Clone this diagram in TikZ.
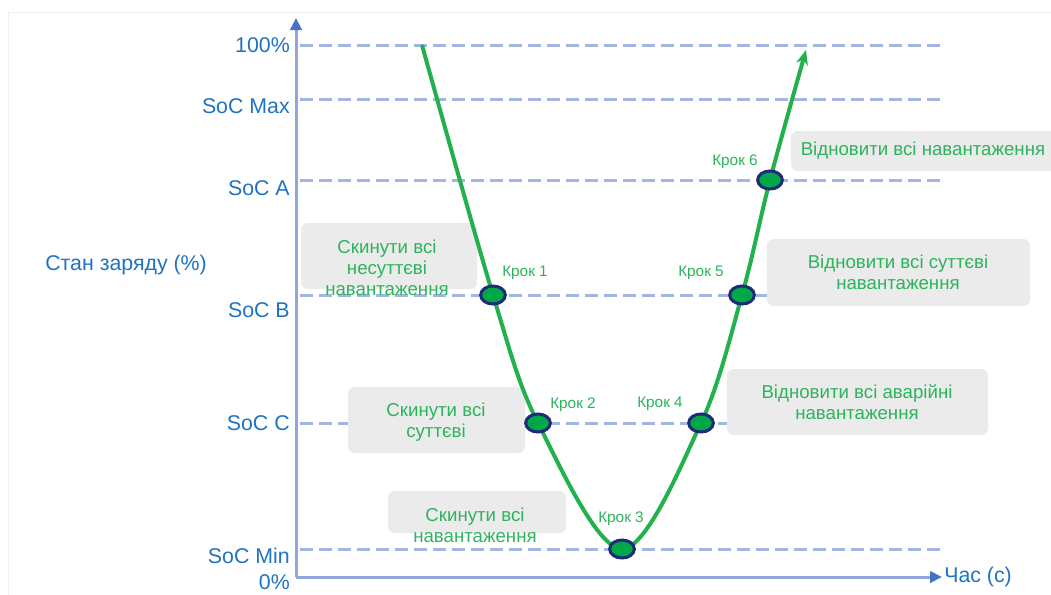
\documentclass[tikz,border=0pt]{standalone}
\usepackage{fontspec}
\setmainfont{Liberation Sans}
\usetikzlibrary{arrows.meta,shapes.geometric}
\definecolor{axisblue}{HTML}{8EA6DC}
\definecolor{axisdark}{HTML}{4472C4}
\definecolor{dashblue}{HTML}{A3B5E3}
\definecolor{labelblue}{HTML}{1F73C2}
\definecolor{curvegreen}{HTML}{22B14C}
\definecolor{textgreen}{HTML}{2BB45C}
\definecolor{markerfill}{HTML}{00A847}
\definecolor{navyline}{HTML}{1F2A7A}
\definecolor{boxgray}{HTML}{EBEBEB}
\definecolor{framegray}{HTML}{EEEEEE}
\begin{document}
\begin{tikzpicture}[x=0.75pt,y=-0.75pt,
  axislbl/.style={text=labelblue, font=\fontsize{16}{19}\selectfont, anchor=east, inner sep=0pt},
  axisline/.style={draw=axisblue, line width=2.25pt, -{Triangle[length=9pt,width=8.5pt,color=axisdark,fill=axisdark]}},
  levelline/.style={draw=dashblue, line width=2.25pt, dash pattern=on 9.75pt off 4.5pt},
  grayfill/.style={fill=boxgray, rounded corners=5pt},
  boxtext/.style={text=textgreen, font=\fontsize{14}{15.75}\selectfont, align=center, inner sep=0pt},
  steplbl/.style={text=textgreen, font=\fontsize{11.5}{13}\selectfont, inner sep=0pt},
  marker/.style={ellipse, fill=markerfill, draw=navyline, line width=2.25pt, minimum width=18.5pt, minimum height=13.5pt, inner sep=0pt},
  curveline/.style={draw=curvegreen, line width=3pt, -{Stealth[length=11pt,width=9pt]}},
]
\useasboundingbox (0,0) rectangle (1051,594);
% frame
\draw[framegray, line width=1pt] (8.5,12.5) rectangle (1070,620);

% level coordinates
\coordinate (a100) at (300,45);  \coordinate (b100) at (941,45);
\coordinate (amax) at (300,99);  \coordinate (bmax) at (941,99);
\coordinate (aA) at (300,180);   \coordinate (bA) at (941,180);
\coordinate (aB) at (300,295);   \coordinate (bB) at (941,295);
\coordinate (aC) at (300,423);   \coordinate (bC) at (941,423);
\coordinate (aMin) at (300,549); \coordinate (bMin) at (941,549);
\foreach \p in {100,max,A,B,C,Min} \draw[levelline] (a\p) -- (b\p);

% gray boxes
\fill[grayfill] (301,223) rectangle (477,289);
\fill[grayfill] (348,387) rectangle (525,453);
\fill[grayfill] (388,491) rectangle (566,533);
\fill[grayfill] (791,131) rectangle (1070,171);
\fill[grayfill] (767,239) rectangle (1030,306);
\fill[grayfill] (727,369) rectangle (988,435);

% axes
\coordinate (O) at (296,577);
\coordinate (ytop) at (296,18);
\coordinate (xend) at (942,577);
\draw[axisline] (O) -- (ytop);
\draw[axisline] (O) -- (xend);

% axis labels
\node[axislbl] (t100) at (290,45) {100\%};
\node[axislbl] (tmax) at (290,106) {SoC Max};
\node[axislbl] (tA) at (290,188) {SoC A};
\node[axislbl] (tB) at (290,310) {SoC B};
\node[axislbl] (tC) at (290,423) {SoC C};
\node[axislbl] (tMin) at (290,556) {SoC Min};
\node[axislbl] (t0) at (290,582) {0\%};
\node[axislbl, anchor=west] (ylab) at (45,265) {Стан заряду (\%)};
\node[axislbl, anchor=west] (xlab) at (944,577) {Час (с)};

% curve
\coordinate (s0) at (422,45);
\coordinate (k1) at (493,295);
\coordinate (k2) at (538,423);
\coordinate (k3) at (622,549);
\coordinate (k4) at (701,423);
\coordinate (k5) at (742,295);
\coordinate (k6) at (770,180);
\coordinate (kend) at (806,50);
\draw[curveline] plot[smooth, tension=0.55] coordinates {(s0) (k1) (k2) (k3) (k4) (k5) (k6) (kend)};

% markers
\node[marker] (m1) at (k1) {};
\node[marker] (m2) at (k2) {};
\node[marker] (m3) at (k3) {};
\node[marker] (m4) at (k4) {};
\node[marker] (m5) at (k5) {};
\node[marker] (m6) at (k6) {};

% step labels
\node[steplbl] (c1) at (525,273) {Крок 1};
\node[steplbl] (c2) at (573,405) {Крок 2};
\node[steplbl] (c3) at (621,519) {Крок 3};
\node[steplbl] (c4) at (660,404) {Крок 4};
\node[steplbl] (c5) at (701,273) {Крок 5};
\node[steplbl] (c6) at (735,162) {Крок 6};

% box texts
\node[boxtext] (x1) at (387,268) {Скинути всі\\несуттєві\\навантаження};
\node[boxtext] (x2) at (436,422) {Скинути всі\\суттєві};
\node[boxtext] (x3) at (475,525) {Скинути всі\\навантаження};
\node[boxtext] (x4) at (923,151) {Відновити всі навантаження};
\node[boxtext] (x5) at (898,272) {Відновити всі суттєві\\навантаження};
\node[boxtext] (x6) at (857,402) {Відновити всі аварійні\\навантаження};
\end{tikzpicture}
\end{document}
